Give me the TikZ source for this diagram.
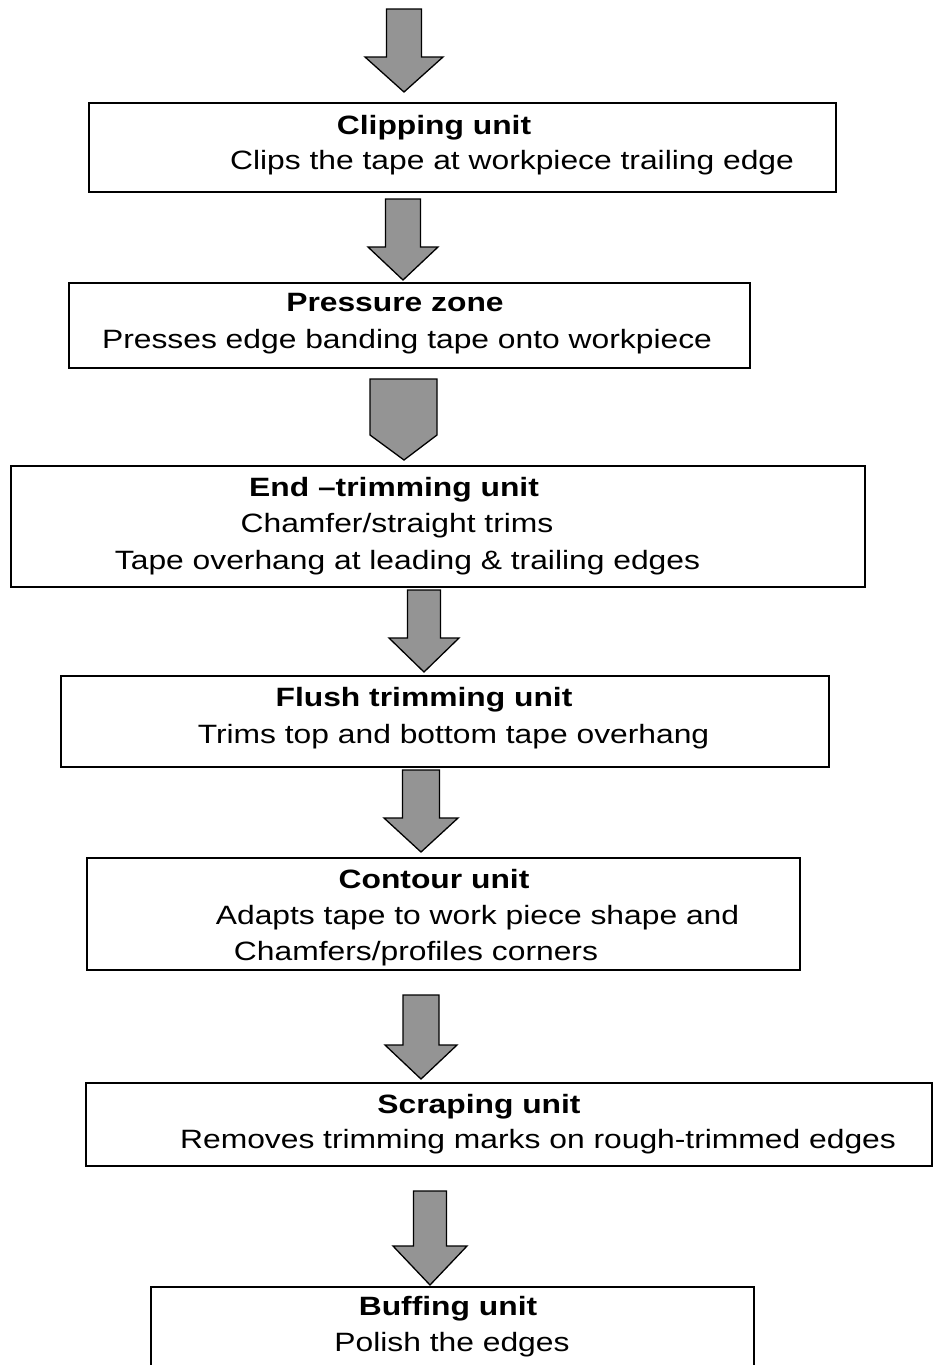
\documentclass[tikz,border=0pt]{standalone}
\usepackage{fontspec}
\setmainfont[FakeStretch=1.2]{Liberation Sans}
\newcommand\blockarrow[6]{%
  \filldraw[fatarrow] ({#1-#3},#2) -- ({#1+#3},#2) -- ({#1+#3},#4) -- ({#1+#5},#4)
    -- (#1,#6) -- ({#1-#5},#4) -- ({#1-#3},#4) -- cycle;}
\tikzset{
  fatarrow/.style={draw=black, line width=1.3pt, fill=black!42, line join=miter},
  stagebox/.style={draw=black, line width=1.4pt},
  txt/.style={inner sep=0pt, anchor=base, font=\fontsize{26.5}{30}\selectfont},
  ttl/.style={txt, font=\fontsize{26.5}{30}\selectfont\bfseries},
}
\begin{document}
\begin{tikzpicture}[x=1pt, y=-1pt]
\useasboundingbox (0,0) rectangle (934,1365);
\clip (0,0) rectangle (934,1365);
% boxes
\draw[stagebox] (89,103) rectangle (836,192);
\draw[stagebox] (69,283) rectangle (750,368);
\draw[stagebox] (11,466) rectangle (865,587);
\draw[stagebox] (61,676) rectangle (829,767);
\draw[stagebox] (87,858) rectangle (800,970);
\draw[stagebox] (86,1083) rectangle (932,1166);
\draw[stagebox] (151,1390) -- (151,1287) -- (754,1287) -- (754,1390);
% arrows
\blockarrow{404}{9}{17.5}{57}{39}{92}
\blockarrow{403}{199}{17.5}{247}{35}{280}
\filldraw[fatarrow] (370,379) -- (437,379) -- (437,435) -- (404,460) -- (370,435) -- cycle;
\blockarrow{424}{590}{16.5}{638}{35}{672}
\blockarrow{421}{770}{18.5}{818}{37}{852}
\blockarrow{421}{995}{18}{1045}{36}{1079}
\blockarrow{430}{1191}{16.5}{1246}{37}{1285}
% texts
\node[ttl] (t1) at (434,134) {Clipping unit};
\node[txt] (d1) at (512,169) {Clips the tape at workpiece trailing edge};
\node[ttl] (t2) at (395,311) {Pressure zone};
\node[txt] (d2) at (407,348) {Presses edge banding tape onto workpiece};
\node[ttl] (t3) at (394,496) {End --trimming unit};
\node[txt] (d3a) at (397,532) {Chamfer/straight trims};
\node[txt] (d3b) at (407.5,569) {Tape overhang at leading \& trailing edges};
\node[ttl] (t4) at (424,706) {Flush trimming unit};
\node[txt] (d4) at (453.5,743) {Trims top and bottom tape overhang};
\node[ttl] (t5) at (434,888) {Contour unit};
\node[txt] (d5a) at (477.5,924) {Adapts tape to work piece shape and};
\node[txt] (d5b) at (416,960) {Chamfers/profiles corners};
\node[ttl] (t6) at (479,1113) {Scraping unit};
\node[txt] (d6) at (538,1148) {Removes trimming marks on rough-trimmed edges};
\node[ttl] (t7) at (448,1315) {Buffing unit};
\node[txt] (d7) at (452,1351) {Polish the edges};
\end{tikzpicture}
\end{document}
